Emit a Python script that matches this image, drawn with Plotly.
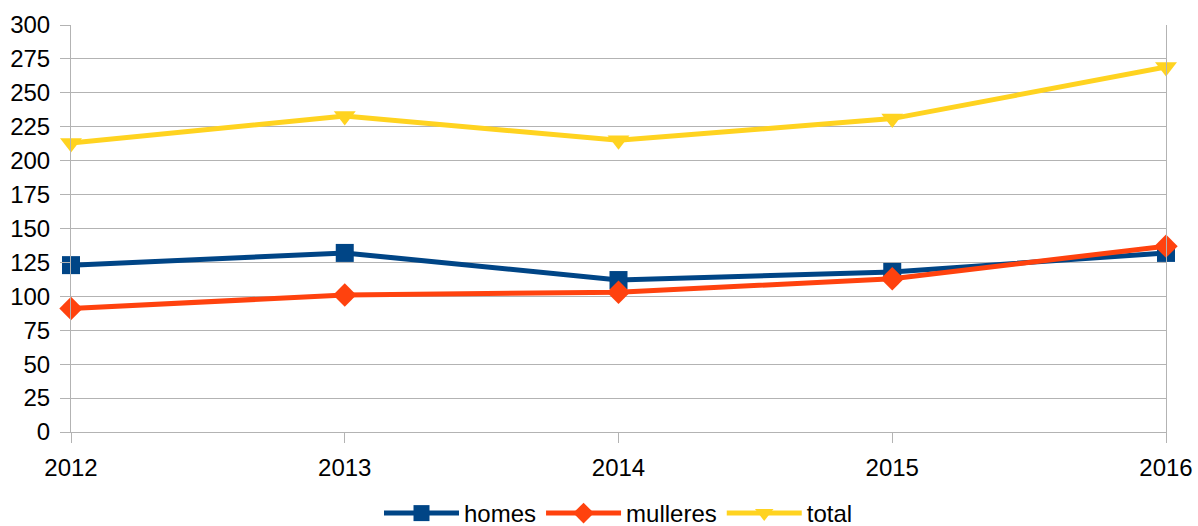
import plotly.graph_objects as go

years = [2012, 2013, 2014, 2015, 2016]
homes = [123, 132, 112, 118, 132]
mulleres = [91, 101, 103, 113, 137]
total = [213, 233, 215, 231, 269]
y_ticks = list(range(0, 301, 25))

fig = go.Figure()
series = [
    ("homes", homes, "#004586", "square", 18),
    ("mulleres", mulleres, "#ff420e", "diamond", 18),
    ("total", total, "#ffd320", "triangle-down", 19),
]
for name, vals, color, sym, size in series:
    fig.add_trace(go.Scatter(
        x=years, y=vals, name=name, mode="lines+markers",
        line=dict(color=color, width=5),
        marker=dict(symbol=sym, size=size, color=color),
        cliponaxis=False,
    ))

fig.update_layout(
    width=1198, height=526,
    margin=dict(l=71, r=32, t=25, b=94, autoexpand=False),
    paper_bgcolor="white", plot_bgcolor="white",
    font=dict(family="Liberation Sans, Arial, sans-serif", size=24, color="black"),
    showlegend=True,
    legend=dict(orientation="h", x=0.5, xanchor="center", y=-0.145, yanchor="top",
                font=dict(size=24), itemwidth=75, tracegroupgap=0),
    xaxis=dict(
        range=[2012, 2016], tickvals=years, ticktext=[str(y) for y in years],
        showgrid=False, zeroline=False, showline=True, linecolor="#b3b3b3", linewidth=1,
        ticks="outside", ticklen=10, tickcolor="#b3b3b3", tickfont=dict(size=24),
        automargin=False, ticklabelstandoff=4,
    ),
    yaxis=dict(
        range=[0, 300], tickvals=y_ticks, showgrid=True, gridcolor="#b3b3b3", gridwidth=1,
        zeroline=False, showline=True, mirror=True, linecolor="#b3b3b3", linewidth=1,
        ticks="outside", ticklen=10, tickcolor="#b3b3b3", tickfont=dict(size=24),
        automargin=False, ticklabelstandoff=5,
    ),
)

fig.write_html("out.html", config={"displayModeBar": False},
               post_script="document.body.style.margin='0';")
